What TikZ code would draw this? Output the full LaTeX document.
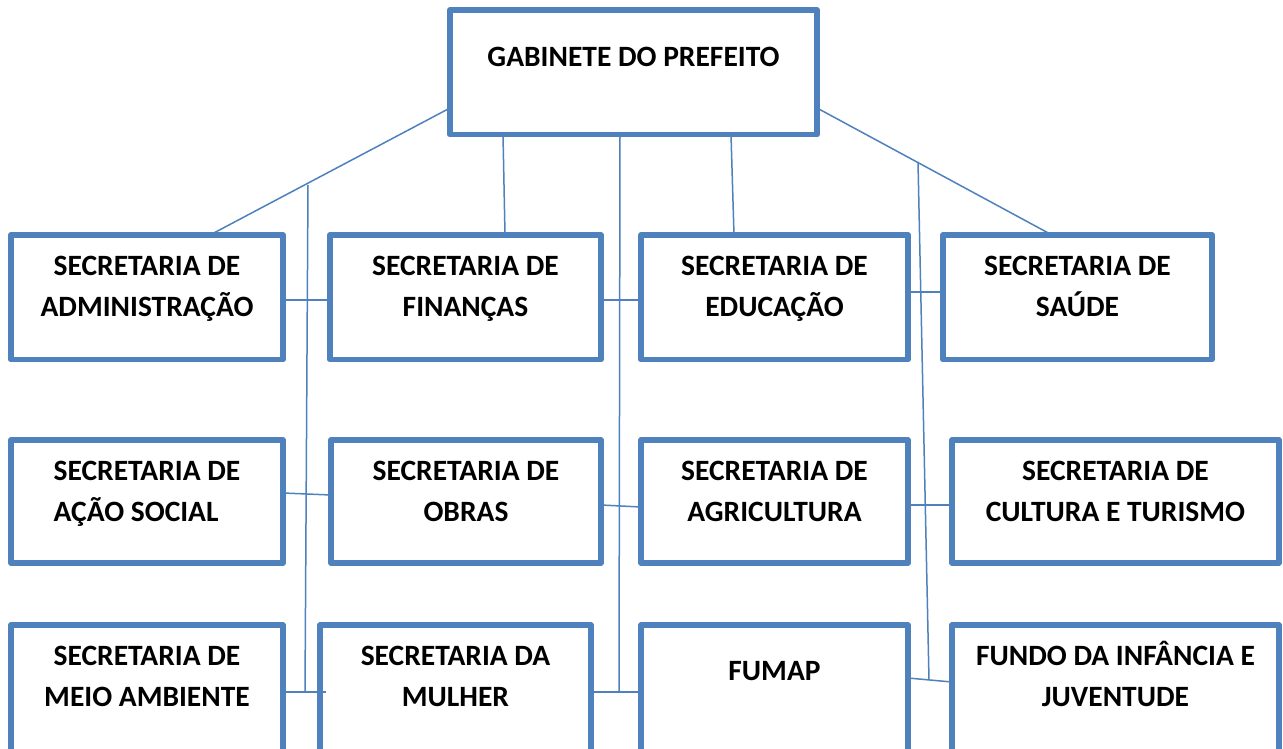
\documentclass[tikz,border=0pt]{standalone}
\usepackage{fontspec}
\newfontfamily\lblfamily{Carlito}
\definecolor{boxblue}{HTML}{4F81BD}
\begin{document}
\begin{tikzpicture}[x=1bp,y=-1bp,
  box/.style={draw=boxblue, line width=5.8bp, line join=round, rectangle, inner sep=0pt, outer sep=0pt, anchor=north west},
  lbl/.style={font=\lblfamily\bfseries\fontsize{29.5bp}{41bp}\selectfont, align=center, anchor=base, inner sep=0pt},
  lbll/.style={lbl, align=left},
  conn/.style={draw=boxblue, line width=1.5bp},
  connb/.style={draw=boxblue, line width=2.7bp}]
\clip (0,0) rectangle (1283,749);
\fill[white] (0,0) rectangle (1283,749);
% boxes
\node[box, minimum width=367bp, minimum height=124.5bp] (gab) at (450,10) {};
\node[box, minimum width=272bp, minimum height=124.5bp] (adm) at (11,235) {};
\node[box, minimum width=271bp, minimum height=124.5bp] (fin) at (330,235) {};
\node[box, minimum width=267bp, minimum height=124.5bp] (edu) at (641,235) {};
\node[box, minimum width=269bp, minimum height=124.5bp] (sau) at (943,235) {};
\node[box, minimum width=272bp, minimum height=123bp] (aca) at (11,440) {};
\node[box, minimum width=270bp, minimum height=123bp] (obr) at (331,440) {};
\node[box, minimum width=267bp, minimum height=123bp] (agr) at (641,440) {};
\node[box, minimum width=327bp, minimum height=123bp] (cul) at (952,440) {};
\node[box, minimum width=272bp, minimum height=134bp] (mei) at (11,625) {};
\node[box, minimum width=271bp, minimum height=134bp] (mul) at (320,625) {};
\node[box, minimum width=267bp, minimum height=134bp] (fum) at (641,625) {};
\node[box, minimum width=327bp, minimum height=134bp] (fun) at (952,625) {};
% labels (base anchor = baseline of the last line)
\node[lbl] (gabT) at ([yshift=-56bp]gab.north) {GABINETE DO PREFEITO};
\node[lbl] (admT) at ([yshift=-81bp]adm.north) {SECRETARIA DE\\ADMINISTRAÇÃO};
\node[lbl] (finT) at ([yshift=-81bp]fin.north) {SECRETARIA DE\\FINANÇAS};
\node[lbl] (eduT) at ([yshift=-81bp]edu.north) {SECRETARIA DE\\EDUCAÇÃO};
\node[lbl] (sauT) at ([yshift=-81bp]sau.north) {SECRETARIA DE\\SAÚDE};
\node[lbll] (acaT) at ([yshift=-81bp]aca.north) {SECRETARIA DE\\AÇÃO SOCIAL};
\node[lbl] (obrT) at ([yshift=-81bp]obr.north) {SECRETARIA DE\\OBRAS};
\node[lbl] (agrT) at ([yshift=-81bp]agr.north) {SECRETARIA DE\\AGRICULTURA};
\node[lbl] (culT) at ([yshift=-81bp]cul.north) {SECRETARIA DE\\CULTURA E TURISMO};
\node[lbl] (meiT) at ([yshift=-81bp]mei.north) {SECRETARIA DE\\MEIO AMBIENTE};
\node[lbl] (mulT) at ([yshift=-81bp]mul.north) {SECRETARIA DA\\MULHER};
\node[lbl] (fumT) at ([yshift=-55bp]fum.north) {FUMAP};
\node[lbl] (funT) at ([yshift=-81bp]fun.north) {FUNDO DA INFÂNCIA E\\JUVENTUDE};
% connectors from the top box
\draw[conn] (gab.west |- 0,108) -- (adm.north -| 210,0);
\draw[conn] (gab.east |- 0,108) -- (sau.north -| 1052,0);
\draw[conn] (gab.south -| 503,0) -- (fin.north -| 505,0);
\draw[conn] (gab.south -| 731,0) -- (edu.north -| 734,0);
\coordinate (jm) at (619,692);
\draw[conn] (gab.south -| 620,0) -- (jm);
\coordinate (vlt) at (308,185);
\coordinate (vlb) at (305,692);
\draw[conn] (vlt) -- (vlb);
\coordinate (vrt) at (918,162);
\coordinate (vrb) at (929,680);
\draw[conn] (vrt) -- (vrb);
% horizontal links
\draw[connb] (adm.east |- 0,300) -- (fin.west |- 0,300);
\draw[connb] (fin.east |- 0,300) -- (edu.west |- 0,300);
\draw[connb] (edu.east |- 0,292) -- (sau.west |- 0,292);
\draw[conn] (aca.east |- 0,493) -- (obr.west |- 0,495);
\draw[conn] (obr.east |- 0,505) -- (agr.west |- 0,507);
\draw[connb] (agr.east |- 0,505) -- (cul.west |- 0,505);
\draw[connb] (mei.east |- jm) -- ([xshift=6bp]mul.west |- jm);
\draw[connb] (mul.east |- jm) -- (fum.west |- jm);
\draw[conn] (fum.east |- 0,678) -- (fun.west |- 0,682);
\end{tikzpicture}
\end{document}
